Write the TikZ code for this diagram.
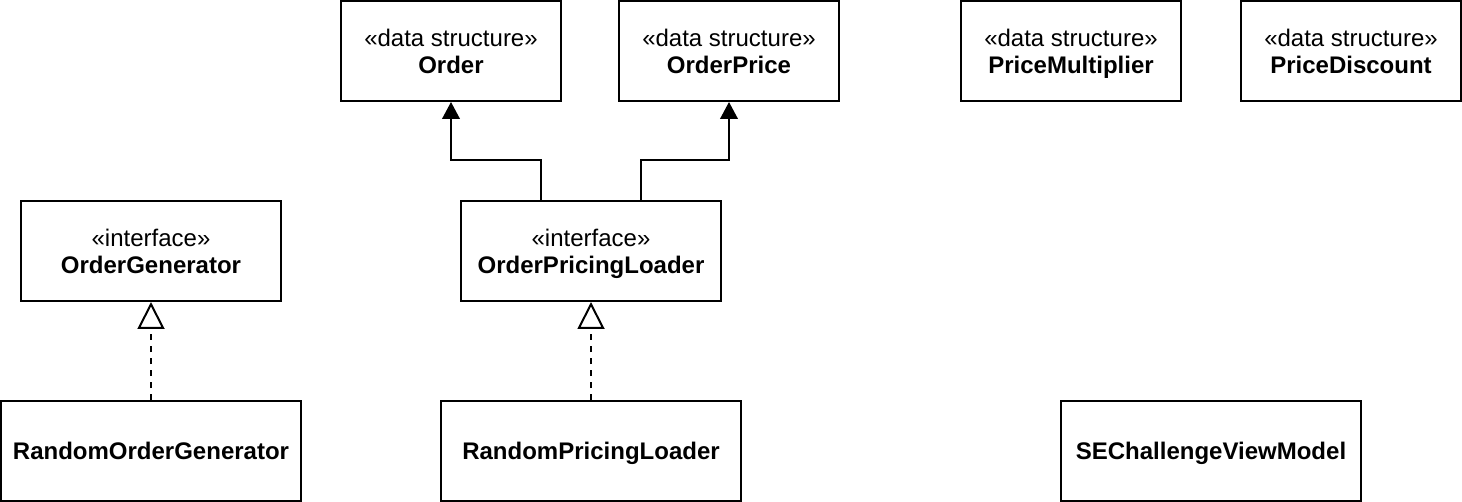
\documentclass[tikz,border=0pt]{standalone}
\usepackage{fontspec}
\setmainfont{Liberation Sans}
\usetikzlibrary{arrows.meta}
\tikzset{
umlbox/.style={draw, line width=1pt, inner sep=0pt, align=center, text depth=0pt,
  minimum height=50pt, font=\fontsize{12pt}{13.5pt}\selectfont},
databox/.style={umlbox, minimum width=110pt},
ifacebox/.style={umlbox, minimum width=130pt},
classbox/.style={umlbox, minimum width=150pt, font=\fontsize{12pt}{13.5pt}\selectfont\bfseries},
uses/.style={line width=1pt, -{Triangle[length=8.5pt, width=8.8pt]}},
realizes/.style={line width=1pt, dash pattern=on 3pt off 3pt,
  -{Triangle[open, length=13.5pt, width=13.5pt]}}
}
\newcommand{\stereo}[2]{«#1»\\\textbf{#2}}
\begin{document}
\begin{tikzpicture}[x=0.5pt, y=-0.5pt]
\useasboundingbox (0,0) rectangle (1462,502);
  % top row
  \node[databox] (order) at (451,51) {\stereo{data structure}{Order}};
  \node[databox] (price) at (729,51) {\stereo{data structure}{OrderPrice}};
  \node[databox] (mult) at (1071,51) {\stereo{data structure}{PriceMultiplier}};
  \node[databox] (disc) at (1351,51) {\stereo{data structure}{PriceDiscount}};
  % interfaces
  \node[ifacebox] (gen) at (151,251) {\stereo{interface}{OrderGenerator}};
  \node[ifacebox] (loader) at (591,251) {\stereo{interface}{OrderPricingLoader}};
  % implementations
  \node[classbox] (rgen) at (151,451) {RandomOrderGenerator};
  \node[classbox] (rloader) at (591,451) {RandomPricingLoader};
  \node[classbox] (vm) at (1211,451) {SEChallengeViewModel};
  % connectors
  \draw[uses] ([xshift=-25pt]loader.north) -- ++(0,-40) -| (order.south);
  \draw[uses] ([xshift=25pt]loader.north) -- ++(0,-40) -| (price.south);
  \draw[realizes] (rgen) -- (gen);
  \draw[realizes] (rloader) -- (loader);
\end{tikzpicture}
\end{document}
